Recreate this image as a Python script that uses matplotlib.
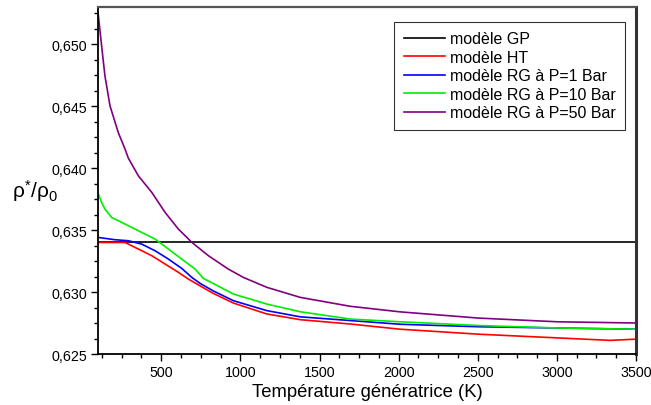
import numpy as np
import matplotlib.pyplot as plt
from matplotlib.ticker import FuncFormatter, AutoMinorLocator, MultipleLocator

plt.rcParams['font.family'] = ['Liberation Sans', 'DejaVu Sans']
plt.rcParams['mathtext.fontset'] = 'custom'
plt.rcParams['mathtext.rm'] = 'Liberation Sans'
plt.rcParams['mathtext.it'] = 'Liberation Sans:italic'

# Température génératrice (K) et rapports rho*/rho0
t_gp = [100, 3500]
gp = [0.634, 0.634]

t_ht = [100, 271, 355, 440, 524, 608, 671, 745, 827, 956, 1167, 1378, 1694, 2010, 2503,
        3003, 3338, 3500]
ht = [0.6340, 0.6340, 0.63347, 0.63293, 0.63226, 0.63159, 0.63105, 0.6305, 0.6299,
      0.62911, 0.62823, 0.62777, 0.62742, 0.6270, 0.6266, 0.6263, 0.6261, 0.6262]

t_rg1 = [100, 208, 292, 376, 461, 545, 629, 693, 745, 827, 956, 1167, 1378, 1694, 2010,
         2503, 3003, 3500]
rg1 = [0.63441, 0.63422, 0.63414, 0.63387, 0.63333, 0.63266, 0.63191, 0.63118, 0.6307,
       0.6301, 0.6293, 0.6285, 0.6280, 0.6277, 0.6274, 0.6272, 0.6271, 0.6270]

t_rg10 = [100, 123, 144, 186, 250, 313, 397, 461, 545, 629, 714, 766, 956, 1167, 1378,
          1694, 2010, 2503, 3003, 3500]
rg10 = [0.6380, 0.63723, 0.63669, 0.63602, 0.63562, 0.63522, 0.63468, 0.63427, 0.63347,
        0.63266, 0.63185, 0.63110, 0.62984, 0.62903, 0.62841, 0.62782, 0.6276, 0.6273,
        0.6271, 0.6270]

t_rg50 = [100, 123, 144, 176, 228, 271, 292, 355, 440, 524, 608, 693, 798, 924, 1019,
          1167, 1378, 1694, 2010, 2503, 3003, 3500]
rg50 = [0.6526, 0.64986, 0.64744, 0.64502, 0.64288, 0.64153, 0.64080, 0.63938, 0.63804,
        0.63643, 0.63508, 0.63401, 0.63293, 0.63185, 0.63118, 0.63038, 0.62957, 0.62885,
        0.6284, 0.6279, 0.6276, 0.6275]

fig = plt.figure(figsize=(6.51, 4.06), dpi=100)
ax = fig.add_axes([0.1505, 0.1256, 0.8265, 0.8547])

ax.plot(t_gp, gp, color='black', lw=1.2, label='modèle GP')
ax.plot(t_ht, ht, color='#ff0000', lw=1.2, label='modèle HT')
ax.plot(t_rg1, rg1, color='#0000ff', lw=1.2, label='modèle RG à P=1 Bar')
ax.plot(t_rg10, rg10, color='#00ee00', lw=1.2, label='modèle RG à P=10 Bar')
ax.plot(t_rg50, rg50, color='#800080', lw=1.2, label='modèle RG à P=50 Bar')

ax.set_xlim(100, 3500)
ax.set_ylim(0.625, 0.653)
ax.xaxis.set_major_locator(MultipleLocator(500))
ax.xaxis.set_minor_locator(MultipleLocator(125))
ax.yaxis.set_major_locator(MultipleLocator(0.005))
ax.yaxis.set_minor_locator(AutoMinorLocator(4))
ax.yaxis.set_major_formatter(FuncFormatter(lambda v, p: f"{v:.3f}".replace('.', ',')))
ax.xaxis.set_major_formatter(FuncFormatter(lambda v, p: f"{int(v)}" if v >= 500 else ""))

ax.tick_params(which='both', direction='out', top=False, right=False, labelsize=10.3, width=1)
ax.tick_params(which='major', length=5, pad=3)
ax.tick_params(which='minor', length=3)

for s in ['left', 'bottom']:
    ax.spines[s].set_linewidth(1.3)
ax.spines['top'].set_color('#555555')
ax.spines['top'].set_linewidth(1.6)
ax.spines['right'].set_color('#333333')
ax.spines['right'].set_linewidth(2.2)

ax.set_xlabel('Température génératrice (K)', fontsize=13.3, labelpad=3)
fig.text(0.018, 0.53, r'$\mathrm{\rho}^{*}/\mathrm{\rho}_0$', fontsize=15, va='center', ha='left')

leg = ax.legend(loc='upper right', bbox_to_anchor=(0.98, 0.958), borderaxespad=0,
                fontsize=11.5, frameon=True, fancybox=False, handlelength=2.6,
                labelspacing=0.22, borderpad=0.6, handletextpad=0.3)
leg.get_frame().set_edgecolor('black')
leg.get_frame().set_linewidth(0.8)

fig.savefig('out.png', dpi=100)
